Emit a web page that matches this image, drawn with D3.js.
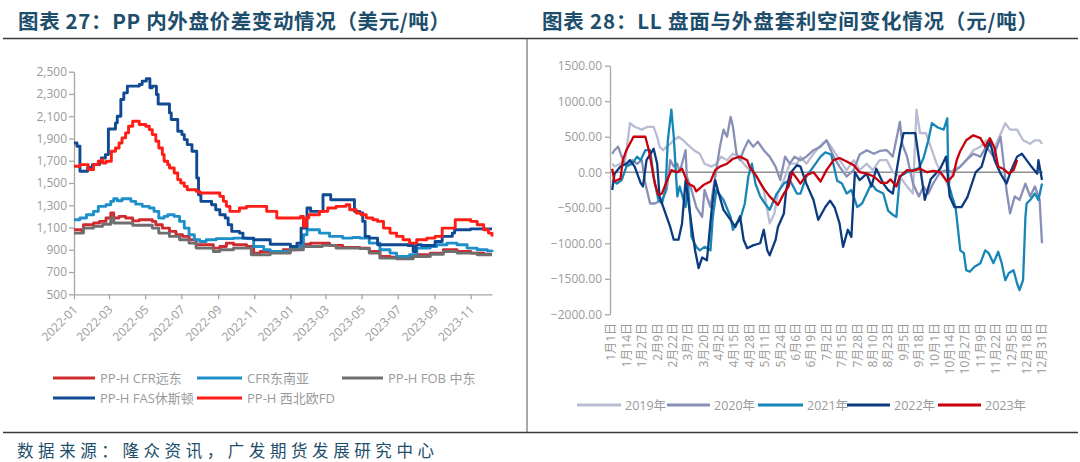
<!DOCTYPE html>
<html><head><meta charset="utf-8">
<script src="https://cdn.jsdelivr.net/npm/d3@7"></script>
<style>
html,body{margin:0;padding:0;background:#fff;}
svg{display:block;font-family:"Open Sans","Noto Sans","Noto Sans CJK SC",sans-serif;}
</style></head><body>
<svg id="c" width="1080" height="462"></svg>
<script>
// ---------------- DATA ----------------
const leftTitle = "图表 27：PP 内外盘价差变动情况（美元/吨）";
const rightTitle = "图表 28：LL 盘面与外盘套利空间变化情况（元/吨）";
const footer = "数据来源：隆众资讯，广发期货发展研究中心";

const leftSeriesNames = ["PP-H CFR远东","CFR东南亚","PP-H FOB 中东","PP-H FAS休斯顿","PP-H 西北欧FD"];
const leftYTicks = [500,700,900,1100,1300,1500,1700,1900,2100,2300,2500];
const leftXTicks = ["2022-01","2022-03","2022-05","2022-07","2022-09","2022-11","2023-01","2023-03","2023-05","2023-07","2023-09","2023-11"];

const cfrFarEast = [["2022-01-01",1080],["2022-01-14",1070],["2022-01-17",1125],["2022-02-03",1140],["2022-02-13",1155],["2022-02-24",1185],["2022-03-04",1230],["2022-03-09",1185],["2022-03-18",1200],["2022-03-29",1185],["2022-04-10",1160],["2022-04-21",1170],["2022-05-13",1155],["2022-05-19",1125],["2022-05-30",1095],["2022-06-11",1065],["2022-06-22",1035],["2022-07-03",1020],["2022-07-14",990],["2022-07-26",945],["2022-08-24",915],["2022-09-04",930],["2022-09-15",960],["2022-09-27",945],["2022-10-19",930],["2022-10-31",870],["2022-11-11",885],["2022-11-28",885],["2022-12-20",900],["2023-01-12",930],["2023-01-23",950],["2023-02-04",960],["2023-03-08",940],["2023-03-30",920],["2023-04-28",915],["2023-05-14",885],["2023-06-01",840],["2023-06-18",833],["2023-07-10",840],["2023-08-02",855],["2023-08-25",870],["2023-09-16",900],["2023-10-09",885],["2023-11-01",870],["2023-11-23",860],["2023-12-07",860]];
const cfrSEAsia = [["2022-01-01",1170],["2022-01-11",1185],["2022-01-22",1215],["2022-02-03",1245],["2022-02-11",1290],["2022-02-24",1305],["2022-03-04",1335],["2022-03-09",1358],["2022-03-15",1340],["2022-03-23",1358],["2022-04-07",1335],["2022-04-15",1310],["2022-04-26",1290],["2022-05-08",1275],["2022-05-16",1245],["2022-05-24",1185],["2022-06-02",1200],["2022-06-08",1215],["2022-06-19",1200],["2022-06-28",1155],["2022-07-06",1095],["2022-07-14",1035],["2022-07-23",990],["2022-08-01",975],["2022-08-12",990],["2022-08-29",1000],["2022-09-27",1005],["2022-10-19",1000],["2022-10-31",930],["2022-11-17",900],["2022-11-28",885],["2023-01-01",915],["2023-01-18",945],["2023-01-23",1035],["2023-01-29",1080],["2023-02-19",1050],["2023-03-08",1020],["2023-03-30",1005],["2023-04-16",1010],["2023-04-28",1005],["2023-05-14",960],["2023-06-01",900],["2023-06-18",870],["2023-06-29",840],["2023-07-21",855],["2023-08-02",915],["2023-08-25",930],["2023-09-05",945],["2023-09-22",960],["2023-10-09",945],["2023-10-26",915],["2023-11-12",900],["2023-11-29",890],["2023-12-07",900]];
const fobMidEast = [["2022-01-01",1050],["2022-01-17",1095],["2022-02-03",1110],["2022-02-18",1130],["2022-03-04",1185],["2022-03-09",1140],["2022-04-10",1120],["2022-05-13",1095],["2022-05-24",1050],["2022-06-11",1020],["2022-06-28",990],["2022-07-14",960],["2022-07-26",915],["2022-08-24",885],["2022-09-04",900],["2022-09-27",915],["2022-10-19",915],["2022-10-27",855],["2022-11-28",870],["2023-01-01",900],["2023-01-23",930],["2023-02-24",940],["2023-03-19",915],["2023-04-28",910],["2023-05-14",870],["2023-06-01",825],["2023-06-29",818],["2023-07-27",840],["2023-08-25",860],["2023-09-16",885],["2023-10-09",870],["2023-11-12",855],["2023-12-07",855]];
const fasHouston = [["2022-01-01",1860],["2022-01-06",1830],["2022-01-11",1605],["2022-01-24",1640],["2022-02-01",1665],["2022-02-13",1690],["2022-02-16",1725],["2022-02-23",1755],["2022-02-28",1985],["2022-03-12",2040],["2022-03-15",2100],["2022-03-21",2250],["2022-03-26",2310],["2022-04-01",2370],["2022-04-21",2385],["2022-04-26",2415],["2022-05-03",2438],["2022-05-09",2355],["2022-05-13",2370],["2022-05-20",2295],["2022-05-23",2210],["2022-06-11",2130],["2022-06-14",2070],["2022-06-25",1965],["2022-07-02",1935],["2022-07-06",1890],["2022-07-11",1845],["2022-07-19",1785],["2022-07-27",1545],["2022-07-30",1395],["2022-08-03",1335],["2022-08-21",1305],["2022-08-28",1260],["2022-09-04",1215],["2022-09-13",1185],["2022-09-18",1125],["2022-09-24",1065],["2022-10-07",1050],["2022-10-13",1005],["2022-10-31",990],["2022-11-28",950],["2023-01-01",930],["2023-01-12",960],["2023-01-19",1095],["2023-01-29",1275],["2023-02-04",1245],["2023-02-25",1395],["2023-03-10",1350],["2023-04-19",1245],["2023-04-28",1230],["2023-05-03",1155],["2023-05-07",1020],["2023-05-14",1005],["2023-05-28",945],["2023-07-18",938],["2023-07-27",885],["2023-08-01",945],["2023-08-10",938],["2023-09-02",975],["2023-09-14",1020],["2023-10-01",1050],["2023-10-05",1080],["2023-11-01",1088],["2023-12-07",1088]];
const nwEuropeFD = [["2022-01-01",1650],["2022-01-11",1665],["2022-01-25",1620],["2022-02-03",1665],["2022-02-11",1695],["2022-02-16",1710],["2022-02-18",1680],["2022-02-24",1695],["2022-03-05",1785],["2022-03-12",1815],["2022-03-18",1860],["2022-03-23",1905],["2022-03-29",1950],["2022-04-03",2010],["2022-04-10",2055],["2022-04-21",2025],["2022-05-02",2010],["2022-05-08",1980],["2022-05-13",1935],["2022-05-19",1875],["2022-05-24",1815],["2022-05-30",1755],["2022-06-02",1695],["2022-06-08",1665],["2022-06-11",1635],["2022-06-19",1590],["2022-06-25",1530],["2022-06-30",1500],["2022-07-06",1470],["2022-07-11",1440],["2022-07-26",1425],["2022-08-01",1410],["2022-09-04",1380],["2022-09-10",1335],["2022-09-15",1290],["2022-09-21",1245],["2022-10-07",1275],["2022-10-19",1290],["2022-11-22",1245],["2022-12-09",1185],["2023-01-18",1200],["2023-01-23",1110],["2023-01-28",1185],["2023-02-01",1215],["2023-02-19",1245],["2023-03-05",1275],["2023-03-19",1290],["2023-04-05",1305],["2023-04-11",1260],["2023-04-22",1230],["2023-04-30",1215],["2023-05-09",1185],["2023-05-20",1170],["2023-05-28",1155],["2023-06-07",1095],["2023-06-18",1050],["2023-06-29",1020],["2023-07-10",990],["2023-07-21",960],["2023-08-02",990],["2023-08-19",1005],["2023-09-02",1020],["2023-09-14",1095],["2023-10-06",1170],["2023-11-01",1155],["2023-11-12",1125],["2023-11-23",1080],["2023-12-01",1050],["2023-12-07",1020]];

const rightSeriesNames = ["2019年","2020年","2021年","2022年","2023年"];
const rightYTicks = [-2000,-1500,-1000,-500,0,500,1000,1500];
const rightXLabels = ["1月1日","1月14日","1月27日","2月9日","2月22日","3月7日","3月20日","4月2日","4月15日","4月28日","5月11日","5月24日","6月6日","6月19日","7月2日","7月15日","7月28日","8月10日","8月23日","9月5日","9月18日","10月1日","10月14日","10月27日","11月9日","11月22日","12月5日","12月18日","12月31日"];

// [day of year, value]
const y2019 = [[1,120],[3,80],[8,120],[12,170],[16,690],[20,640],[26,600],[31,640],[36,640],[39,500],[41,360],[44,310],[47,360],[50,400],[53,450],[57,500],[61,450],[64,400],[70,310],[75,260],[79,120],[85,80],[89,120],[93,220],[98,170],[103,260],[108,220],[112,120],[117,30],[123,-60],[129,-250],[134,-720],[138,-580],[141,-300],[146,-110],[151,120],[157,120],[160,220],[165,120],[171,260],[176,360],[182,450],[188,310],[193,170],[199,30],[205,170],[210,30],[216,120],[221,30],[227,170],[233,170],[238,0],[244,-60],[250,-200],[255,-300],[258,880],[261,550],[266,550],[271,310],[275,120],[281,-60],[285,-200],[289,30],[295,80],[300,170],[306,310],[312,360],[317,450],[323,310],[328,500],[333,690],[337,600],[343,600],[348,450],[354,400],[358,450],[362,450],[364,400]];
const y2020 = [[1,260],[3,310],[6,360],[9,220],[13,80],[18,170],[22,120],[26,170],[29,-160],[33,-440],[37,-440],[43,-390],[47,-250],[50,170],[53,80],[56,120],[58,0],[63,310],[64,-60],[68,-250],[72,-490],[77,-630],[79,-250],[84,-490],[88,-60],[92,360],[95,600],[98,500],[101,780],[103,640],[106,260],[109,170],[112,310],[116,450],[120,360],[124,430],[129,310],[134,220],[139,80],[143,-110],[147,220],[151,120],[155,220],[160,170],[165,220],[171,310],[177,360],[182,450],[188,220],[193,80],[199,-60],[205,30],[210,250],[216,310],[222,260],[227,300],[233,310],[238,220],[244,710],[246,400],[250,220],[255,-160],[260,-340],[264,-200],[268,-300],[272,-160],[278,0],[284,30],[289,0],[295,80],[300,170],[306,260],[312,220],[317,360],[323,220],[329,500],[331,220],[334,-250],[337,-580],[341,-340],[345,-390],[350,-160],[354,-340],[358,-200],[362,-390],[364,-1000]];
const y2021 = [[1,-110],[5,-160],[9,-110],[13,80],[18,120],[22,220],[25,170],[29,310],[33,310],[36,-60],[40,-390],[43,-440],[46,-250],[48,450],[51,880],[53,500],[56,-340],[58,-200],[63,-490],[65,-160],[68,-910],[72,-1050],[75,-1100],[79,-1050],[84,-1100],[86,-630],[89,-250],[95,-390],[101,-630],[103,-810],[106,-720],[109,-670],[113,-440],[116,-60],[119,120],[122,-160],[126,-340],[130,-440],[134,-530],[140,-300],[146,-160],[151,-110],[157,-300],[160,-300],[165,-60],[171,80],[177,220],[181,280],[186,250],[191,-120],[195,-160],[199,-300],[203,-250],[208,-490],[212,-440],[216,-300],[220,-160],[224,-250],[230,-300],[234,-540],[238,-600],[241,-630],[244,-60],[250,0],[255,30],[260,60],[264,200],[268,450],[271,690],[276,630],[281,600],[284,760],[285,-160],[288,-340],[291,-490],[295,-1100],[298,-1140],[300,-1380],[303,-1400],[307,-1330],[312,-1280],[316,-1100],[319,-1140],[323,-1280],[327,-1120],[330,-1280],[333,-1520],[336,-1420],[340,-1380],[343,-1570],[345,-1660],[348,-1520],[350,-630],[351,-440],[354,-390],[358,-300],[361,-390],[364,-160]];
const y2022 = [[1,-250],[3,-20],[8,80],[13,120],[16,170],[20,80],[25,-150],[27,-200],[30,170],[36,330],[39,120],[41,-340],[46,-580],[50,-770],[53,-950],[57,-950],[60,-720],[63,-110],[67,-620],[71,-1100],[74,-1350],[77,-1200],[81,-1240],[85,-530],[88,-110],[91,-300],[95,-530],[101,-670],[105,-770],[109,-620],[112,-950],[115,-1070],[120,-1030],[126,-1000],[129,-810],[132,-1100],[134,-1170],[139,-950],[141,-770],[146,-580],[148,-250],[151,-20],[157,100],[160,80],[165,-160],[171,-390],[175,-670],[181,-490],[185,-400],[189,-500],[193,-720],[196,-1050],[200,-810],[203,-910],[206,0],[210,-110],[216,-20],[220,-200],[224,50],[230,-160],[234,-250],[238,-300],[244,300],[247,550],[257,550],[260,200],[265,-390],[270,-100],[278,50],[283,220],[286,-340],[290,-490],[296,-490],[301,-350],[308,0],[313,80],[317,310],[320,430],[324,170],[329,-20],[334,-160],[338,30],[343,220],[347,260],[351,170],[355,80],[360,-20],[361,170],[364,-110]];
const y2023 = [[1,50],[3,-130],[8,-90],[10,170],[13,310],[19,500],[29,500],[32,310],[37,-160],[40,-320],[43,-300],[47,-130],[51,30],[56,0],[60,50],[65,-160],[70,-200],[72,-270],[78,-180],[84,-130],[88,30],[92,80],[98,120],[103,190],[109,220],[115,170],[117,80],[123,-60],[129,-230],[134,-340],[141,-460],[146,-300],[150,-200],[153,0],[157,-90],[160,-160],[165,-40],[171,0],[177,-130],[182,30],[188,170],[193,200],[199,150],[205,100],[210,0],[216,-20],[222,-60],[228,-150],[233,-150],[236,-100],[241,-200],[244,-60],[250,30],[255,20],[261,50],[267,0],[272,20],[278,0],[284,-130],[289,-50],[292,170],[295,300],[300,450],[306,520],[312,480],[316,360],[320,480],[324,340],[327,80],[331,50],[336,-20],[340,30],[343,170]];

// ---------------- DRAW ----------------
const svg = d3.select("#c");
const titleColor = "#1d4e6c";
const axisColor = "#a6a6a6";
const textColor = "#9a9a9a";

svg.append("text").attr("x",18).attr("y",29).attr("fill",titleColor)
  .attr("font-family","'Noto Sans CJK SC',sans-serif").attr("font-weight","bold").attr("font-size",20.5)
  .attr("textLength",432).attr("lengthAdjust","spacing").text(leftTitle);
svg.append("text").attr("x",542).attr("y",29).attr("fill",titleColor)
  .attr("font-family","'Noto Sans CJK SC',sans-serif").attr("font-weight","bold").attr("font-size",20.5)
  .attr("textLength",496).attr("lengthAdjust","spacing").text(rightTitle);
svg.append("line").attr("x1",3).attr("x2",1078).attr("y1",38.5).attr("y2",38.5).attr("stroke","#3a3a3a").attr("stroke-width",1.5);
svg.append("line").attr("x1",527).attr("x2",527).attr("y1",38.5).attr("y2",432.5).attr("stroke","#555").attr("stroke-width",1);
svg.append("line").attr("x1",3).attr("x2",1078).attr("y1",432.5).attr("y2",432.5).attr("stroke","#3a3a3a").attr("stroke-width",1.5);
svg.append("text").attr("x",17).attr("y",457).attr("fill",titleColor)
  .attr("font-family","'Noto Sans CJK SC',sans-serif").attr("font-size",16.5)
  .attr("textLength",417).attr("lengthAdjust","spacing").text(footer);

function styleAxis(g){
  g.select(".domain").attr("stroke",axisColor).attr("stroke-width",1.3);
  g.selectAll(".tick line").attr("stroke",axisColor).attr("stroke-width",1.3);
  g.selectAll(".tick text").attr("fill",textColor).attr("font-size",12)
    .attr("font-family","'Open Sans','Noto Sans CJK SC',sans-serif");
}

// ---- Left chart ----
const parse = d3.timeParse("%Y-%m-%d");
const pm = d3.timeParse("%Y-%m");
const xL = d3.scaleTime().domain([parse("2022-01-01"), parse("2023-12-07")]).range([74,492]);
const yL = d3.scaleLinear().domain([500,2500]).range([294.3,71.7]);

const gyL = svg.append("g").attr("transform","translate(74,0)")
  .call(d3.axisLeft(yL).tickValues(leftYTicks).tickFormat(d3.format(",")).tickSize(5).tickSizeOuter(0));
styleAxis(gyL);
gyL.selectAll(".tick text").attr("x",-7);

const gxL = svg.append("g").attr("transform","translate(0,294.3)")
  .call(d3.axisBottom(xL).tickValues(leftXTicks.map(pm)).tickFormat(d3.timeFormat("%Y-%m")).tickSize(5).tickSizeOuter(0));
styleAxis(gxL);
gxL.selectAll(".tick text").attr("text-anchor","end").attr("x",0).attr("y",0).attr("dy","0.35em")
  .attr("transform","translate(1,13) rotate(-45)");

const leftColors = ["#cf2a2e","#1f8fca","#6f6f6f","#0f4a93","#ff1d16"];
const leftData = [cfrFarEast, cfrSEAsia, fobMidEast, fasHouston, nwEuropeFD];
const lineL = d3.line().curve(d3.curveStepAfter).x(d=>xL(parse(d[0]))).y(d=>yL(d[1]));
leftData.forEach((s,i)=>{
  svg.append("path").attr("d",lineL(s)).attr("fill","none").attr("stroke",leftColors[i])
    .attr("stroke-width",2.9).attr("stroke-linejoin","round");
});

// left legend
const legL = [[53,95,378],[197,242,378],[342,383,378],[53,95,398],[197,242,398]];
leftSeriesNames.forEach((n,i)=>{
  const p = legL[i];
  svg.append("line").attr("x1",p[0]).attr("x2",p[1]).attr("y1",p[2]).attr("y2",p[2])
    .attr("stroke",leftColors[i]).attr("stroke-width",3);
  svg.append("text").attr("x",p[1]+5).attr("y",p[2]+4.5).attr("fill",textColor).attr("font-size",13)
    .attr("font-family","'Open Sans','Noto Sans CJK SC',sans-serif").text(n);
});

// ---- Right chart ----
const xR = d3.scaleLinear().domain([0,364]).range([611,1042]);
const yR = d3.scaleLinear().domain([-2000,1500]).range([314.3,65.7]);

const gyR = svg.append("g").attr("transform","translate(610,0)")
  .call(d3.axisLeft(yR).tickValues(rightYTicks).tickFormat(d3.format(".2f")).tickSize(5).tickSizeOuter(0));
styleAxis(gyR);
gyR.selectAll(".tick text").attr("x",-8);

svg.append("line").attr("x1",610).attr("x2",1043).attr("y1",yR(0)).attr("y2",yR(0))
  .attr("stroke","#8f8f8f").attr("stroke-width",1.5);

svg.append("g").selectAll("text").data(rightXLabels).join("text")
  .attr("transform",(d,i)=>`translate(${xR(i*13)},323) rotate(-90)`)
  .attr("text-anchor","end").attr("dy","0.36em").attr("fill",textColor).attr("font-size",12)
  .attr("font-family","'Open Sans','Noto Sans CJK SC',sans-serif").text(d=>d);

const rightColors = ["#b9bdd3","#8890b6","#1786b6","#0c3b80","#c8000b"];
const rightData = [y2019,y2020,y2021,y2022,y2023];
const lineR = d3.line().x(d=>xR(d[0])).y(d=>yR(d[1]));
rightData.forEach((s,i)=>{
  svg.append("path").attr("d",lineR(s)).attr("fill","none").attr("stroke",rightColors[i])
    .attr("stroke-width",2.3).attr("stroke-linejoin","round");
});

const legR = [[577,621],[667,710],[758,803],[847,890],[938,981]];
rightSeriesNames.forEach((n,i)=>{
  const p = legR[i];
  svg.append("line").attr("x1",p[0]).attr("x2",p[1]).attr("y1",405).attr("y2",405)
    .attr("stroke",rightColors[i]).attr("stroke-width",3);
  svg.append("text").attr("x",p[1]+4).attr("y",409.5).attr("fill",textColor).attr("font-size",12.5)
    .attr("font-family","'Open Sans','Noto Sans CJK SC',sans-serif").text(n);
});
</script></body></html>
